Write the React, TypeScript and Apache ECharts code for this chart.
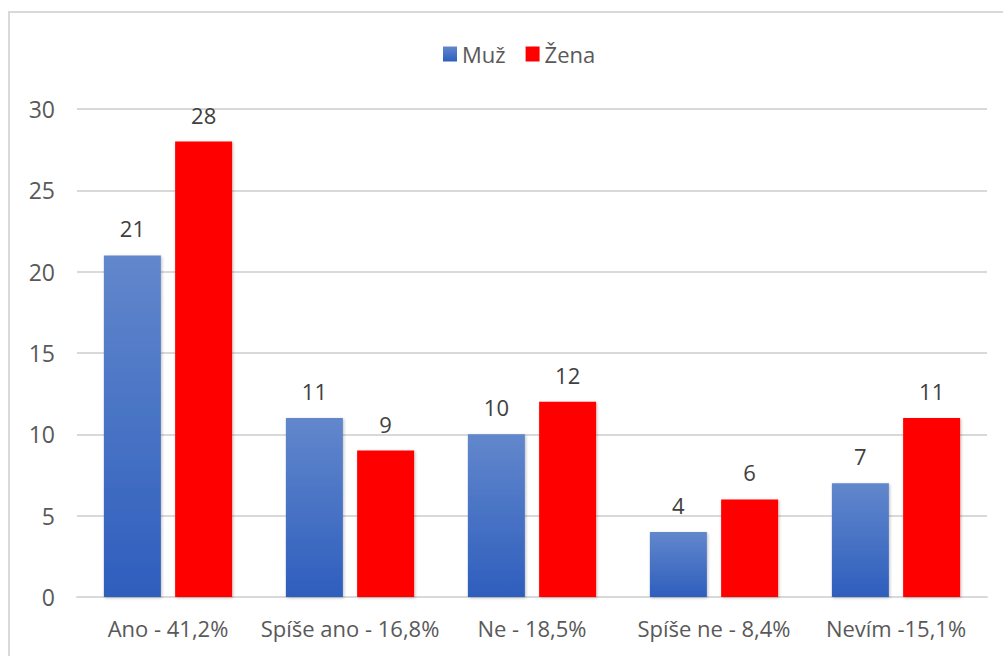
import React, { useEffect, useRef } from "react";
import * as echarts from "echarts";

const categories = ["Ano - 41,2%", "Spíše ano - 16,8%", "Ne - 18,5%", "Spíše ne - 8,4%", "Nevím -15,1%"];
const muz = [21, 11, 10, 4, 7];
const zena = [28, 9, 12, 6, 11];
const seriesNames = ["Muž", "Žena"];

const FONT = "'Open Sans', 'Noto Sans', sans-serif";

export default function App() {
  const ref = useRef<HTMLDivElement>(null);
  useEffect(() => {
    if (!ref.current) return;
    const chart = echarts.init(ref.current, null, { renderer: "svg" });
    const shadow = {
      shadowBlur: 3,
      shadowColor: "rgba(0,0,0,0.25)",
      shadowOffsetX: 1,
      shadowOffsetY: 1,
    };
    const label = {
      show: true,
      position: "top",
      distance: 16,
      fontFamily: FONT,
      fontSize: 22,
      color: "#404040",
    };
    chart.setOption({
      animation: false,
      backgroundColor: "#ffffff",
      graphic: [
        {
          type: "rect",
          shape: { x: 9, y: 12, width: 1010, height: 660 },
          style: { fill: "none", stroke: "#d9d9d9", lineWidth: 2 },
          silent: true,
        },
      ],
      legend: {
        data: seriesNames,
        left: 438,
        top: 38,
        itemWidth: 14,
        itemHeight: 15,
        itemGap: 20,
        icon: "rect",
        textStyle: { fontFamily: FONT, fontSize: 22, color: "#595959" },
      },
      grid: { left: 77, right: 16, top: 109, bottom: 59, containLabel: false },
      xAxis: {
        type: "category",
        data: categories,
        axisLine: { show: true, lineStyle: { color: "#d9d9d9", width: 2 } },
        axisTick: { show: false },
        axisLabel: {
          interval: 0,
          hideOverlap: false,
          fontFamily: FONT,
          fontSize: 22,
          color: "#595959",
          margin: 20,
        },
      },
      yAxis: {
        type: "value",
        min: 0,
        max: 30,
        interval: 5,
        axisLine: { show: false },
        axisTick: { show: false },
        splitLine: { lineStyle: { color: "#d9d9d9", width: 2 } },
        axisLabel: { fontFamily: FONT, fontSize: 23, color: "#595959", margin: 22 },
      },
      series: [
        {
          name: seriesNames[0],
          type: "bar",
          data: muz,
          barWidth: 57,
          barGap: "25%",
          itemStyle: {
            color: new echarts.graphic.LinearGradient(0, 0, 0, 1, [
              { offset: 0, color: "#6287CC" },
              { offset: 1, color: "#2E5EBD" },
            ]),
            ...shadow,
          },
          label,
        },
        {
          name: seriesNames[1],
          type: "bar",
          data: zena,
          barWidth: 57,
          barGap: "25%",
          itemStyle: { color: "#FF0000", ...shadow },
          label,
        },
      ],
    });
    return () => chart.dispose();
  }, []);
  return (
    <div
      ref={ref}
      style={{ position: "fixed", left: 0, top: 0, width: 1003, height: 656 }}
    />
  );
}
